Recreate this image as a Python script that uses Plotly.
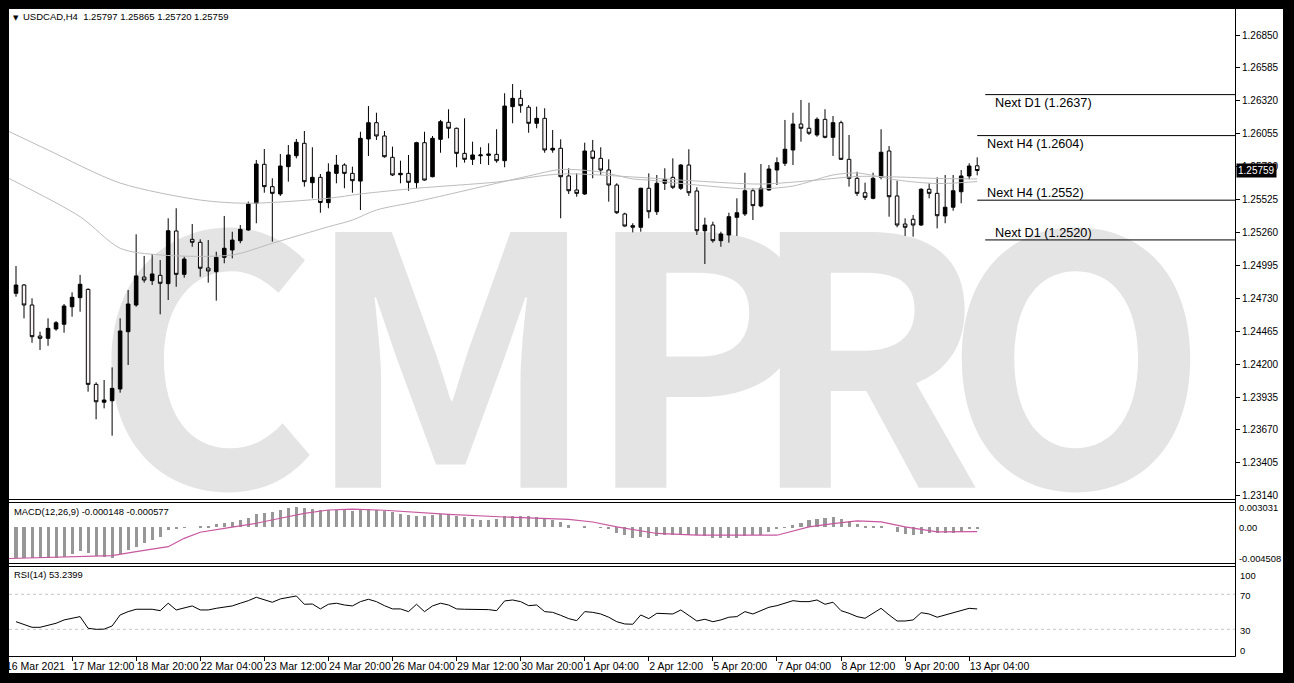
import plotly.graph_objects as go

# ---------------- data ----------------
symbol = "USDCAD,H4"
bar_index = list(range(121))

open_ = [1.24770, 1.24837, 1.24676, 1.24426, 1.24408, 1.24483, 1.24521, 1.24662, 1.24735, 1.24802,
         1.24037, 1.23893, 1.23905, 1.24000, 1.24461, 1.24676, 1.24901, 1.24872, 1.24915, 1.24848,
         1.25272, 1.24923, 1.25205, 1.25181, 1.24974, 1.24944, 1.25060, 1.25119, 1.25194, 1.25280,
         1.25495, 1.25809, 1.25629, 1.25570, 1.25790, 1.25878, 1.25978, 1.25661, 1.25704, 1.25500,
         1.25736, 1.25803, 1.25736, 1.25674, 1.26013, 1.26144, 1.26037, 1.25865, 1.25725, 1.25736,
         1.25661, 1.25983, 1.25709, 1.26010, 1.26147, 1.26099, 1.25897, 1.25849, 1.25878, 1.25881,
         1.25889, 1.25838, 1.26273, 1.26340, 1.26268, 1.26139, 1.26179, 1.25924, 1.25938, 1.25715,
         1.25602, 1.25570, 1.25916, 1.25857, 1.25763, 1.25642, 1.25409, 1.25315, 1.25302, 1.25616,
         1.25427, 1.25656, 1.25704, 1.25616, 1.25803, 1.25594, 1.25274, 1.25320, 1.25194, 1.25240,
         1.25382, 1.25409, 1.25596, 1.25473, 1.25602, 1.25763, 1.25817, 1.25924, 1.26133, 1.26099,
         1.26045, 1.26171, 1.26026, 1.26144, 1.25849, 1.25696, 1.25580, 1.25535, 1.25704, 1.25916,
         1.25554, 1.25328, 1.25366, 1.25320, 1.25608, 1.25575, 1.25393, 1.25463, 1.25588, 1.25715,
         1.25797]
high = [1.24990, 1.24845, 1.24730, 1.24461, 1.24569, 1.24547, 1.24684, 1.24778, 1.24918, 1.24810,
        1.24054, 1.24072, 1.24174, 1.24569, 1.24797, 1.25245, 1.25071, 1.25087, 1.25038, 1.25374,
        1.25455, 1.25065, 1.25328, 1.25205, 1.25199, 1.25105, 1.25393, 1.25266, 1.25320, 1.25508,
        1.25844, 1.25932, 1.25696, 1.25892, 1.25964, 1.26013, 1.26077, 1.25946, 1.25731, 1.25817,
        1.25884, 1.25817, 1.25790, 1.26071, 1.26278, 1.26224, 1.26077, 1.25951, 1.25838, 1.25884,
        1.25990, 1.26071, 1.26037, 1.26166, 1.26252, 1.26104, 1.26179, 1.25991, 1.25946, 1.25978,
        1.26091, 1.26381, 1.26455, 1.26407, 1.26286, 1.26273, 1.26260, 1.26085, 1.26010, 1.25777,
        1.25736, 1.25983, 1.26005, 1.25946, 1.25849, 1.25656, 1.25419, 1.25334, 1.25620, 1.25736,
        1.25723, 1.25777, 1.25857, 1.25810, 1.25930, 1.25624, 1.25379, 1.25347, 1.25266, 1.25419,
        1.25535, 1.25741, 1.25616, 1.25811, 1.25803, 1.25865, 1.26166, 1.26224, 1.26327, 1.26305,
        1.26187, 1.26252, 1.26198, 1.26160, 1.26045, 1.25749, 1.25661, 1.25741, 1.26091, 1.25956,
        1.25677, 1.25374, 1.25401, 1.25616, 1.25656, 1.25704, 1.25723, 1.25723, 1.25763, 1.25817,
        1.25865]
low = [1.24743, 1.24569, 1.24372, 1.24314, 1.24348, 1.24469, 1.24453, 1.24582, 1.24622, 1.23978,
       1.23756, 1.23844, 1.23624, 1.23970, 1.24193, 1.24662, 1.24856, 1.24837, 1.24601, 1.24716,
       1.24823, 1.24896, 1.25145, 1.24904, 1.24856, 1.24711, 1.25012, 1.25052, 1.25173, 1.25274,
       1.25334, 1.25580, 1.25186, 1.25554, 1.25669, 1.25857, 1.25629, 1.25535, 1.25419, 1.25455,
       1.25656, 1.25616, 1.25580, 1.25441, 1.25876, 1.26005, 1.25862, 1.25715, 1.25656, 1.25596,
       1.25616, 1.25677, 1.25704, 1.25902, 1.26018, 1.25785, 1.25822, 1.25803, 1.25811, 1.25803,
       1.25822, 1.25785, 1.26139, 1.26224, 1.26063, 1.26099, 1.25902, 1.25902, 1.25374, 1.25570,
       1.25548, 1.25562, 1.25696, 1.25723, 1.25508, 1.25409, 1.25306, 1.25261, 1.25266, 1.25374,
       1.25401, 1.25602, 1.25610, 1.25602, 1.25554, 1.25240, 1.25006, 1.25178, 1.25145, 1.25178,
       1.25232, 1.25393, 1.25360, 1.25463, 1.25596, 1.25642, 1.25795, 1.25803, 1.25991, 1.26045,
       1.26031, 1.26018, 1.25876, 1.25844, 1.25629, 1.25554, 1.25521, 1.25527, 1.25688, 1.25387,
       1.25302, 1.25232, 1.25226, 1.25312, 1.25535, 1.25293, 1.25334, 1.25435, 1.25495, 1.25688,
       1.25720]
close = [1.24837, 1.24676, 1.24421, 1.24408, 1.24488, 1.24533, 1.24668, 1.24738, 1.24843, 1.24037,
         1.23897, 1.23911, 1.24005, 1.24467, 1.24684, 1.24910, 1.24877, 1.24926, 1.24851, 1.25274,
         1.24923, 1.25046, 1.25181, 1.24972, 1.24950, 1.25060, 1.25133, 1.25199, 1.25285, 1.25489,
         1.25811, 1.25629, 1.25575, 1.25795, 1.25884, 1.25986, 1.25669, 1.25704, 1.25501, 1.25747,
         1.25803, 1.25736, 1.25677, 1.26018, 1.26144, 1.26037, 1.25870, 1.25723, 1.25736, 1.25664,
         1.25983, 1.25682, 1.26018, 1.26152, 1.26099, 1.25897, 1.25849, 1.25884, 1.25884, 1.25892,
         1.25838, 1.26278, 1.26340, 1.26281, 1.26139, 1.26179, 1.25924, 1.25938, 1.25709, 1.25596,
         1.25575, 1.25916, 1.25857, 1.25763, 1.25642, 1.25419, 1.25312, 1.25302, 1.25616, 1.25427,
         1.25656, 1.25688, 1.25624, 1.25803, 1.25580, 1.25274, 1.25320, 1.25194, 1.25248, 1.25387,
         1.25419, 1.25596, 1.25476, 1.25616, 1.25771, 1.25822, 1.25930, 1.26133, 1.26099, 1.26059,
         1.26171, 1.26026, 1.26144, 1.25849, 1.25696, 1.25575, 1.25543, 1.25696, 1.25906, 1.25548,
         1.25320, 1.25302, 1.25320, 1.25608, 1.25575, 1.25395, 1.25463, 1.25596, 1.25715, 1.25795,
         1.25759]

# two moving averages (read at selected bars)
ma_slow_idx = [-1, 4, 13, 23, 29, 39, 43, 50, 60, 68, 77, 79, 85, 93, 100, 105, 110, 115, 120]
ma_slow = [1.26077, 1.25924, 1.25658, 1.25521, 1.25495, 1.25535, 1.25570, 1.25616, 1.25666, 1.25731,
           1.25707, 1.25699, 1.25674, 1.25650, 1.25682, 1.25711, 1.25707, 1.25695, 1.25691]
ma_fast_idx = [-1, 8, 13, 18, 27, 32, 39, 42, 45, 50, 60, 64, 68, 73, 77, 79, 85, 92, 97, 102, 105, 110, 115, 120]
ma_fast = [1.25699, 1.25387, 1.25133, 1.25079, 1.25079, 1.25173, 1.25306, 1.25360, 1.25441, 1.25508,
           1.25656, 1.25715, 1.25767, 1.25747, 1.25691, 1.25682, 1.25642, 1.25610, 1.25634, 1.25723,
           1.25739, 1.25682, 1.25654, 1.25670]

macd = [-0.00392, -0.00392, -0.00392, -0.00390, -0.00388, -0.00384, -0.00372, -0.00342, -0.00300, -0.00330,
        -0.00359, -0.00376, -0.00384, -0.00342, -0.00288, -0.00246, -0.00204, -0.00162, -0.00121, -0.00040,
        -0.00020, -0.00010, 0.00000, 0.00005, 0.00018, 0.00035, 0.00048, 0.00068, 0.00089, 0.00118,
        0.00161, 0.00173, 0.00194, 0.00215, 0.00236, 0.00253, 0.00244, 0.00227, 0.00219, 0.00219,
        0.00219, 0.00219, 0.00202, 0.00210, 0.00225, 0.00220, 0.00205, 0.00185, 0.00165, 0.00150,
        0.00140, 0.00136, 0.00148, 0.00161, 0.00161, 0.00136, 0.00128, 0.00107, 0.00094, 0.00094,
        0.00107, 0.00136, 0.00136, 0.00136, 0.00136, 0.00128, 0.00107, 0.00094, 0.00065, 0.00024,
        0.00000, 0.00010, 0.00000, -0.00010, -0.00020, -0.00080, -0.00102, -0.00131, -0.00122, -0.00131,
        -0.00114, -0.00102, -0.00102, -0.00093, -0.00093, -0.00102, -0.00114, -0.00131, -0.00143, -0.00143,
        -0.00143, -0.00114, -0.00102, -0.00093, -0.00059, -0.00030, -0.00010, 0.00024, 0.00053, 0.00087,
        0.00107, 0.00119, 0.00128, 0.00107, 0.00078, 0.00044, 0.00010, 0.00010, 0.00020, 0.00000,
        -0.00059, -0.00089, -0.00093, -0.00089, -0.00080, -0.00080, -0.00080, -0.00072, -0.00059, -0.00030,
        -0.000148]
signal_idx = [-1, 6, 12, 15, 19, 21, 23, 26, 30, 33, 36, 39, 42, 46, 54, 61, 69, 72, 75, 80,
              85, 95, 99, 102, 105, 108, 111, 115, 120]
signal = [-0.00395, -0.00376, -0.00359, -0.00309, -0.00246, -0.00141, -0.00065, -0.00015, 0.00048, 0.00111,
          0.00173, 0.00215, 0.00227, 0.00212, 0.00161, 0.00127, 0.00098, 0.00064, 0.00003, -0.00080,
          -0.00102, -0.00102, 0.00003, 0.00044, 0.00078, 0.00065, 0.00003, -0.00059, -0.000577]

rsi = [38.7, 35.8, 32.3, 32.3, 34.6, 36.9, 40.7, 42.6, 44.5, 31.2,
       30.0, 30.2, 33.8, 46.4, 50.2, 52.9, 52.9, 52.9, 51.3, 59.8,
       52.1, 54.8, 56.7, 52.1, 52.1, 54.0, 55.2, 56.7, 59.8, 62.7,
       66.6, 63.5, 60.9, 64.7, 66.2, 68.1, 58.6, 58.9, 53.3, 58.6,
       59.8, 57.8, 56.7, 61.6, 64.3, 61.6, 57.0, 53.3, 53.3, 50.2,
       58.6, 50.2, 56.7, 59.8, 57.8, 53.3, 52.9, 52.9, 52.9, 52.5,
       51.3, 62.4, 63.5, 61.6, 57.0, 57.8, 50.2, 49.4, 46.0, 42.2,
       39.9, 50.2, 49.4, 47.5, 43.8, 38.7, 36.1, 35.8, 46.4, 42.2,
       48.3, 48.3, 47.5, 52.1, 45.3, 39.5, 41.5, 38.7, 40.7, 43.8,
       44.5, 50.2, 47.5, 51.3, 55.2, 57.0, 59.8, 62.7, 61.6, 61.6,
       63.5, 58.6, 60.9, 51.3, 48.3, 44.5, 42.6, 48.3, 54.0, 46.4,
       39.5, 39.5, 40.7, 49.0, 47.5, 43.8, 46.4, 49.4, 52.1, 54.0,
       53.2399]
rsi_levels = [70, 30]
rsi_scale = [100, 70, 30, 0]
macd_scale = [0.003031, 0.0, -0.004508]

price_ticks = [1.26850, 1.26585, 1.26320, 1.26055, 1.25790, 1.25525, 1.25260, 1.24995,
               1.24730, 1.24465, 1.24200, 1.23935, 1.23670, 1.23405, 1.23140]
time_tick_idx = [7, 15, 23, 31, 39, 47, 55, 63, 71, 79, 87, 95, 103, 111, 119]
time_tick_labels = ["17 Mar 12:00", "18 Mar 20:00", "22 Mar 04:00", "23 Mar 12:00", "24 Mar 20:00",
                    "26 Mar 04:00", "29 Mar 12:00", "30 Mar 20:00", "1 Apr 04:00", "2 Apr 12:00",
                    "5 Apr 20:00", "7 Apr 04:00", "8 Apr 12:00", "9 Apr 20:00", "13 Apr 04:00"]
first_date_label = "16 Mar 2021"

levels = [1.2637, 1.2604, 1.2552, 1.2520]
level_names = ["Next D1", "Next H4", "Next H4", "Next D1"]
level_start = [121, 120, 120, 121]

watermark = "CMPRO"

# ---------------- layout geometry (pixels) ----------------
W, H = 1294, 683
PL, PR, PT, PB = 9, 1235, 9, 656
X0_PX, DX_PX = 16.0, 8.01


def fx(px):
    return (px - PL) / (PR - PL)


def fy(py):
    return (PB - py) / (PB - PT)


x_range = [(PL - X0_PX) / DX_PX, (PR - X0_PX) / DX_PX]
main_dom = [fy(499), 1.0]
macd_dom = [fy(563), fy(502)]
rsi_dom = [0.0, fy(566)]
price_range = [1.231141, 1.270593]
macd_range = [-0.004511, 0.003154]
rsi_range = [-0.46, 102.29]

FONT = "Liberation Sans, Arial, sans-serif"

fig = go.Figure()

# watermark (bottom subplot, drawn first so candles stay on top)
WM_SIZE = 345
wm_px = [206, 451, 699, 866, 1076]
wm_anchor_py = 360 + 0.12 * WM_SIZE
fig.add_trace(go.Scatter(
    x=[(p - PL) / (PR - PL) for p in wm_px], y=[(499 - wm_anchor_py) / 490.0] * 5,
    text=list(watermark), mode="text", xaxis="x", yaxis="y",
    textfont=dict(family="Noto Sans CJK SC, Liberation Sans, sans-serif", size=WM_SIZE,
                  color="#e4e4e4", weight="bold"),
    hoverinfo="skip", showlegend=False))

# moving averages
for mx, my in [(ma_slow_idx, ma_slow), (ma_fast_idx, ma_fast)]:
    fig.add_trace(go.Scatter(x=mx, y=my, mode="lines", xaxis="x2", yaxis="y2",
                             line=dict(color="#bcbcbc", width=1, shape="spline", smoothing=0.8),
                             hoverinfo="skip", showlegend=False))

# candles
fig.add_trace(go.Candlestick(
    x=bar_index, open=open_, high=high, low=low, close=close, xaxis="x2", yaxis="y2",
    increasing=dict(line=dict(color="black", width=1), fillcolor="black"),
    decreasing=dict(line=dict(color="black", width=1), fillcolor="#faf4f4"),
    whiskerwidth=0, hoverinfo="skip", showlegend=False))

# MACD
fig.add_trace(go.Bar(x=bar_index, y=macd, xaxis="x3", yaxis="y3", width=0.38,
                     marker=dict(color="#979797", line=dict(width=0)),
                     hoverinfo="skip", showlegend=False))
fig.add_trace(go.Scatter(x=signal_idx, y=signal, mode="lines", xaxis="x3", yaxis="y3",
                         line=dict(color="#c8579f", width=1.2),
                         hoverinfo="skip", showlegend=False))

# RSI
fig.add_trace(go.Scatter(x=bar_index, y=rsi, mode="lines", xaxis="x4", yaxis="y4",
                         line=dict(color="black", width=1),
                         hoverinfo="skip", showlegend=False))

shapes = []
# frame lines
for py in [499.5, 502.5, 563.5, 566.5, 656.5]:
    shapes.append(dict(type="line", xref="paper", yref="paper", x0=fx(PL), x1=fx(PR + 0.5),
                       y0=fy(py), y1=fy(py), line=dict(color="black", width=1), layer="above"))
shapes.append(dict(type="line", xref="paper", yref="paper", x0=fx(PR + 0.5), x1=fx(PR + 0.5),
                   y0=fy(PT), y1=fy(656.5), line=dict(color="black", width=1), layer="above"))
# level lines
for lv, st in zip(levels, level_start):
    shapes.append(dict(type="line", xref="x2", yref="y2", x0=st, x1=x_range[1], y0=lv, y1=lv,
                       line=dict(color="black", width=1)))
# RSI level lines
for lv in rsi_levels:
    shapes.append(dict(type="line", xref="x4", yref="y4", x0=x_range[0], x1=x_range[1], y0=lv, y1=lv,
                       line=dict(color="#c4c4c4", width=1, dash="3px,3px"), layer="below"))
# outer black border
for (a, b, c, d) in [(0, PL, 0, H), (0, W, 0, PT), (1283, W, 0, H), (0, W, 673, H)]:
    shapes.append(dict(type="rect", xref="paper", yref="paper", x0=fx(a), x1=fx(b),
                       y0=fy(d), y1=fy(c), fillcolor="black", line=dict(width=0), layer="above"))

ann = []
ann.append(dict(xref="paper", yref="paper", x=fx(11), y=fy(17.5), xanchor="left", yanchor="middle",
                text="\u25bc", showarrow=False, font=dict(family="DejaVu Sans", size=7, color="black")))
ann.append(dict(xref="paper", yref="paper", x=fx(21), y=fy(17), xanchor="left", yanchor="middle",
                text=f"{symbol}\u00a0\u00a0{open_[-1]:.5f} {high[-1]:.5f} {low[-1]:.5f} {close[-1]:.5f}",
                showarrow=False, font=dict(family=FONT, size=9.5, color="black")))
ann.append(dict(xref="paper", yref="paper", x=fx(12), y=fy(511), xanchor="left", yanchor="middle",
                text=f"MACD(12,26,9) {macd[-1]:.6f} {signal[-1]:.6f}",
                showarrow=False, font=dict(family=FONT, size=9.4, color="black")))
ann.append(dict(xref="paper", yref="paper", x=fx(12), y=fy(574), xanchor="left", yanchor="middle",
                text=f"RSI(14) {rsi[-1]:.4f}",
                showarrow=False, font=dict(family=FONT, size=9.4, color="black")))
# level labels
for i, (lv, nm, st) in enumerate(zip(levels, level_names, level_start)):
    ann.append(dict(xref="x2", yref="y2", x=st + 1, y=lv, xanchor="left", yanchor="middle",
                    yshift=(-8 if i < 2 else 7), text=f"{nm} ({lv:.4f})", showarrow=False,
                    font=dict(family=FONT, size=12.7, color="black")))
# current price box
ann.append(dict(xref="paper", yref="y2", x=1, y=close[-1], xanchor="left", yanchor="middle", xshift=1,
                text=f"{close[-1]:.5f}", showarrow=False, bgcolor="black", borderpad=1,
                font=dict(family=FONT, size=10, color="white")))
# MACD scale
for v, sh in zip(macd_scale, [-5, 0, 4]):
    txt = f"{v:.6f}" if v != 0 else "0.00"
    ann.append(dict(xref="paper", yref="y3", x=1, y=v, xanchor="left", yanchor="middle", xshift=2,
                    yshift=sh, text=txt, showarrow=False, font=dict(family=FONT, size=9.4, color="black")))
# RSI scale
for v, sh in zip(rsi_scale, [-7, -1, -1, 5]):
    ann.append(dict(xref="paper", yref="y4", x=1, y=v, xanchor="left", yanchor="middle", xshift=3,
                    yshift=sh, text=str(v), showarrow=False, font=dict(family=FONT, size=9.4, color="black")))
# first (clipped) date label
ann.append(dict(xref="paper", yref="paper", x=fx(4), y=fy(666), xanchor="left", yanchor="middle",
                text=first_date_label, showarrow=False, font=dict(family=FONT, size=10.5, color="black")))

hidden = dict(visible=False, showgrid=False, zeroline=False, fixedrange=True, automargin=False)

fig.update_layout(
    width=W, height=H, margin=dict(l=PL, r=W - PR, t=PT, b=H - PB, pad=0, autoexpand=False),
    paper_bgcolor="white", plot_bgcolor="rgba(0,0,0,0)", showlegend=False,
    boxgap=0.36, bargap=0,
    xaxis=dict(domain=[0, 1], range=[0, 1], anchor="y", **hidden),
    yaxis=dict(domain=main_dom, range=[0, 1], anchor="x", **hidden),
    xaxis2=dict(domain=[0, 1], range=x_range, anchor="y2", showticklabels=False, ticks="",
                showgrid=False, zeroline=False, showline=False, automargin=False,
                rangeslider=dict(visible=False)),
    yaxis2=dict(domain=main_dom, range=price_range, anchor="x2", side="right", tickmode="array",
                tickvals=price_ticks, ticktext=[f"{t:.5f}" for t in price_ticks],
                ticks="outside", ticklen=4, tickcolor="black", tickwidth=1,
                tickfont=dict(family=FONT, size=10, color="black"), automargin=False,
                showgrid=False, zeroline=False, showline=False),
    xaxis3=dict(domain=[0, 1], range=x_range, anchor="y3", matches="x2", showticklabels=False,
                ticks="", showgrid=False, zeroline=False, automargin=False),
    yaxis3=dict(domain=macd_dom, range=macd_range, anchor="x3", side="right", showticklabels=False,
                ticks="", showgrid=False, zeroline=False, automargin=False),
    xaxis4=dict(domain=[0, 1], range=x_range, anchor="y4", matches="x2", tickmode="array",
                tickvals=time_tick_idx, ticktext=time_tick_labels, ticks="outside", ticklen=4,
                tickcolor="black", ticklabelposition="outside right", tickangle=0,
                tickfont=dict(family=FONT, size=10.5, color="black"), automargin=False,
                showgrid=False, zeroline=False, showline=False),
    yaxis4=dict(domain=rsi_dom, range=rsi_range, anchor="x4", side="right", showticklabels=False,
                ticks="", showgrid=False, zeroline=False, automargin=False),
    shapes=shapes, annotations=ann,
)

fig.write_html(
    "out.html",
    config={"displayModeBar": False, "responsive": False},
    post_script="document.body.style.margin='0';document.body.style.padding='0';"
                "document.documentElement.style.overflow='hidden';",
)
